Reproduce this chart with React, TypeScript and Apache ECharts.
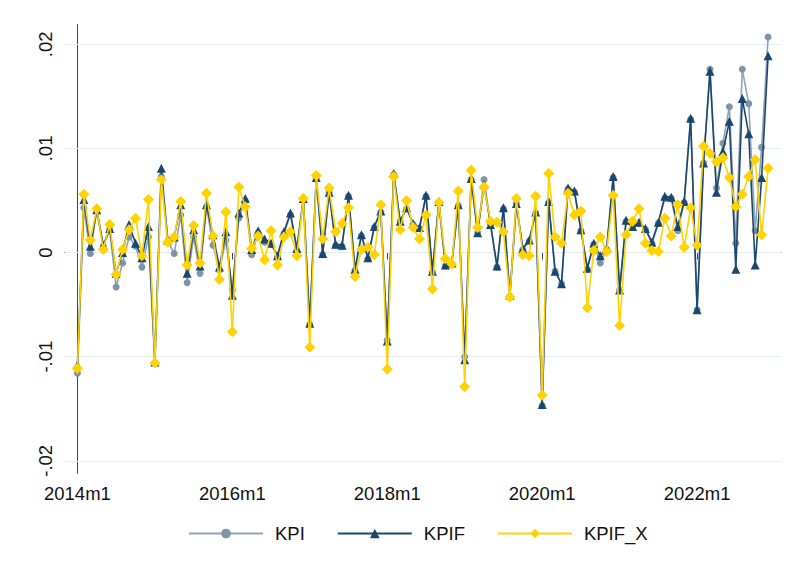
import React, { useEffect, useRef } from "react";
import * as echarts from "echarts";

// months since 2014m1 (0 = 2014m1 ... 107 = 2022m12)
const xTickValues = [0, 24, 48, 72, 96];
const xTickLabels = ["2014m1", "2016m1", "2018m1", "2020m1", "2022m1"];
const yTickValues = [-0.02, -0.01, 0, 0.01, 0.02];
const yTickLabels = ["-.02", "-.01", "0", ".01", ".02"];

const kpi = [
  -0.0116, 0.0043, -0.0001, 0.0041, 0.0006, 0.0022, -0.0033, -0.001, 0.0015, 0.0006, -0.0014, 0.0015,
  -0.0106, 0.0073, 0.0011, -0.0001, 0.0036, -0.0029, 0.0015, -0.002, 0.0044, 0.0007, -0.0017, 0.0012,
  -0.0036, 0.0033, 0.005, -0.0002, 0.0019, 0.001, 0.0008, -0.0004, 0.0018, 0.0036, 0.0002, 0.0051,
  -0.0069, 0.0071, -0.0002, 0.0058, 0.0007, 0.0006, 0.0054, -0.0017, 0.0016, -0.0006, 0.0024, 0.0039,
  -0.0084, 0.0075, 0.003, 0.0042, 0.0027, 0.0023, 0.0054, -0.0019, 0.0048, -0.0013, -0.0011, 0.0045,
  -0.01, 0.007, 0.0019, 0.007, 0.0027, -0.0014, 0.0042, -0.0042, 0.0047, 0.0003, 0.0011, 0.0038,
  -0.0147, 0.0048, -0.0018, -0.003, 0.0061, 0.0058, 0.0021, -0.0016, 0.0008, -0.001, 0.0003, 0.0072,
  -0.0036, 0.003, 0.0024, 0.0028, 0.0022, 0.0009, 0.0028, 0.0052, 0.0052, 0.0021, 0.0048, 0.0128,
  -0.0055, 0.0086, 0.0176, 0.0062, 0.0105, 0.014, 0.0009, 0.0176, 0.0143, 0.0021, 0.0101, 0.0207,
];

const kpif = [
  -0.0108, 0.0051, 0.0006, 0.0041, 0.0007, 0.0023, -0.002, 0.0, 0.0027, 0.0009, -0.0005, 0.0025,
  -0.0105, 0.0081, 0.0012, 0.0015, 0.0046, -0.002, 0.0022, -0.0013, 0.0046, 0.0017, -0.0014, 0.002,
  -0.0041, 0.0038, 0.0052, 0.0003, 0.0021, 0.0013, 0.0009, -0.0003, 0.002, 0.0038, 0.0004, 0.0052,
  -0.0068, 0.0072, -0.0001, 0.0058, 0.0008, 0.0007, 0.0055, -0.0016, 0.0017, -0.0005, 0.0025, 0.004,
  -0.0085, 0.0076, 0.003, 0.0043, 0.0028, 0.0024, 0.0055, -0.0018, 0.0049, -0.0012, -0.001, 0.0046,
  -0.0103, 0.0071, 0.0019, 0.0065, 0.0027, -0.0013, 0.0043, -0.0041, 0.0047, 0.0004, 0.0012, 0.0039,
  -0.0146, 0.0049, -0.0018, -0.003, 0.0062, 0.0059, 0.0022, -0.0015, 0.0009, -0.0003, 0.0004, 0.0073,
  -0.0036, 0.0031, 0.0025, 0.0029, 0.0023, 0.001, 0.0029, 0.0054, 0.0053, 0.0025, 0.0049, 0.0129,
  -0.0055, 0.0086, 0.0174, 0.0058, 0.0097, 0.0126, -0.0016, 0.0148, 0.0114, -0.0012, 0.0072, 0.0189,
];

const kpifX = [
  -0.0111, 0.0056, 0.0012, 0.0042, 0.0003, 0.0027, -0.0021, 0.0003, 0.0022, 0.0033, -0.0003, 0.0051,
  -0.0106, 0.007, 0.001, 0.0015, 0.0049, -0.0012, 0.0026, -0.001, 0.0057, 0.0016, -0.0026, 0.0039,
  -0.0076, 0.0063, 0.0044, 0.0004, 0.0016, -0.0007, 0.0021, -0.0012, 0.0015, 0.002, -0.0003, 0.0052,
  -0.0091, 0.0074, 0.0013, 0.0062, 0.002, 0.0028, 0.0043, -0.0023, 0.0003, 0.0005, -0.0002, 0.0046,
  -0.0112, 0.0073, 0.0022, 0.005, 0.0024, 0.0013, 0.0036, -0.0035, 0.0048, -0.0006, -0.0011, 0.0059,
  -0.0129, 0.0079, 0.0024, 0.0063, 0.003, 0.0029, 0.002, -0.0043, 0.0052, -0.0002, -0.0003, 0.0054,
  -0.0137, 0.0076, 0.0015, 0.0009, 0.0057, 0.0036, 0.004, -0.0053, 0.0002, 0.0015, 0.0001, 0.0055,
  -0.007, 0.0017, 0.003, 0.0042, 0.0009, 0.0002, 0.0001, 0.0033, 0.0016, 0.0046, 0.0005, 0.0043,
  0.0007, 0.0102, 0.0095, 0.0087, 0.0091, 0.0072, 0.0044, 0.0056, 0.0073, 0.0089, 0.0017, 0.0081,
];

const FONT = "'Liberation Sans', Arial, Helvetica, sans-serif";
const toPairs = (arr: number[]) => arr.map((v, i) => [i, v]);

export default function App() {
  const ref = useRef<HTMLDivElement>(null);
  useEffect(() => {
    if (!ref.current) return;
    const chart = echarts.init(ref.current, null, { renderer: "svg" });
    const xLabel = (v: number) => {
      const k = xTickValues.indexOf(v);
      return k >= 0 ? xTickLabels[k] : "";
    };
    const yLabel = (v: number) => {
      let best = 0;
      yTickValues.forEach((t, k) => {
        if (Math.abs(t - v) < Math.abs(yTickValues[best] - v)) best = k;
      });
      return yTickLabels[best];
    };
    chart.setOption({
      animation: false,
      backgroundColor: "#ffffff",
      textStyle: { fontFamily: FONT },
      grid: { left: 64.5, right: 11, top: 24.5, bottom: 97.7, containLabel: false },
      xAxis: {
        type: "value",
        min: -2,
        max: 109,
        axisLine: { show: true, lineStyle: { color: "#444", width: 1 } },
        axisTick: { show: true, length: 7, lineStyle: { color: "#444" }, customValues: xTickValues },
        axisLabel: {
          customValues: xTickValues,
          formatter: xLabel,
          fontSize: 18.5,
          color: "#111",
          margin: 11,
          fontFamily: FONT,
        },
        splitLine: { show: false },
      },
      yAxis: {
        type: "value",
        min: -0.0212,
        max: 0.0219,
        axisLine: { show: true, lineStyle: { color: "#444", width: 1 } },
        axisTick: { show: true, length: 7, lineStyle: { color: "#444" }, customValues: yTickValues },
        axisLabel: {
          customValues: yTickValues,
          formatter: yLabel,
          rotate: 90,
          fontSize: 18.5,
          color: "#111",
          margin: 10,
          fontFamily: FONT,
        },
        splitLine: { show: false },
      },
      legend: {
        left: 188,
        top: 524,
        padding: 0,
        itemWidth: 74,
        itemHeight: 12,
        itemGap: 32,
        textStyle: { fontSize: 18.5, color: "#111", fontFamily: FONT, padding: [0, 0, 0, 7] },
        data: ["KPI", "KPIF", "KPIF_X"],
      },
      series: [
        {
          name: "KPI",
          type: "line",
          data: toPairs(kpi),
          symbol: "circle",
          symbolSize: 7,
          z: 2,
          lineStyle: { color: "#8fa2b7", width: 1.6 },
          itemStyle: { color: "#7f93aa" },
          markLine: {
            silent: true,
            z: 1,
            symbol: "none",
            label: { show: false },
            lineStyle: { color: "#e6eef1", width: 1.2, type: "solid" },
            data: yTickValues.map((v) => ({ yAxis: v })),
          },
        },
        {
          name: "KPIF",
          type: "line",
          data: toPairs(kpif),
          symbol: "triangle",
          symbolSize: 9,
          z: 3,
          lineStyle: { color: "#1a476f", width: 1.6 },
          itemStyle: { color: "#1a476f" },
        },
        {
          name: "KPIF_X",
          type: "line",
          data: toPairs(kpifX),
          symbol: "diamond",
          symbolSize: 11,
          z: 4,
          lineStyle: { color: "#ffd200", width: 1.6 },
          itemStyle: { color: "#ffd200" },
        },
      ],
    });
    return () => chart.dispose();
  }, []);
  return (
    <div
      ref={ref}
      style={{ position: "fixed", left: 0, top: 0, width: 792, height: 571, background: "#fff" }}
    />
  );
}
